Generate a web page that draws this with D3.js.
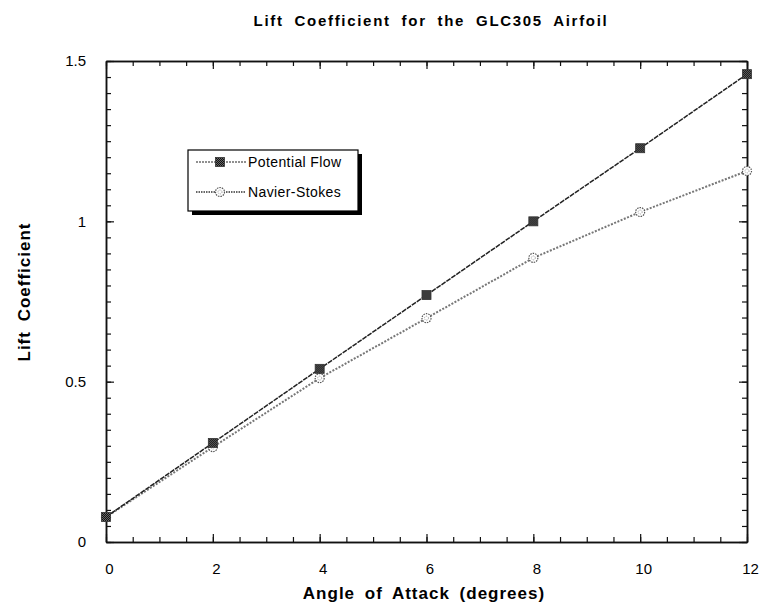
<!DOCTYPE html>
<html>
<head>
<meta charset="utf-8">
<script src="https://cdn.jsdelivr.net/npm/d3@7"></script>
<style>
  html, body { margin: 0; padding: 0; background: #fff; }
  svg { display: block; }
  text { font-family: "Liberation Sans", Arial, Helvetica, sans-serif; fill: #000; }
</style>
</head>
<body>
<svg id="chart" width="764" height="608"></svg>
<script>
// Angle of attack (degrees)
const angles = [0, 2, 4, 6, 8, 10, 12];
// Lift coefficient, potential flow solution
const potentialFlow = [0.078, 0.309, 0.540, 0.770, 1.000, 1.228, 1.459];
// Lift coefficient, Navier-Stokes solution
const navierStokes = [0.078, 0.296, 0.511, 0.698, 0.886, 1.029, 1.157];

const xTicks = [0, 2, 4, 6, 8, 10, 12];
const yTicks = [0, 0.5, 1, 1.5];
const seriesNames = ["Potential Flow", "Navier-Stokes"];

const svg = d3.select("#chart");
const margin = { left: 106, right: 17, top: 61, bottom: 66 };
const W = 764, H = 608;

const x = d3.scaleLinear().domain([0, 12]).range([margin.left, W - margin.right]);
const y = d3.scaleLinear().domain([0, 1.5]).range([H - margin.bottom, margin.top]);

// Marker fill pattern
const defs = svg.append("defs");
const checker = defs.append("pattern").attr("id", "checker")
  .attr("width", 2).attr("height", 2).attr("patternUnits", "userSpaceOnUse");
checker.append("rect").attr("width", 2).attr("height", 2).attr("fill", "#666");
checker.append("rect").attr("width", 1).attr("height", 1).attr("fill", "#111");
checker.append("rect").attr("x", 1).attr("y", 1).attr("width", 1).attr("height", 1).attr("fill", "#111");

// Title
svg.append("text")
  .attr("x", 431).attr("y", 26)
  .attr("text-anchor", "middle")
  .style("font-size", "15px").style("font-weight", "bold")
  .style("letter-spacing", "1.7px").style("word-spacing", "5px")
  .text("Lift Coefficient for the GLC305 Airfoil");

// Axis labels
svg.append("text")
  .attr("x", 424).attr("y", 599)
  .attr("text-anchor", "middle")
  .style("font-size", "17px").style("font-weight", "bold")
  .style("letter-spacing", "1px").style("word-spacing", "4px")
  .text("Angle of Attack (degrees)");

svg.append("text")
  .attr("transform", "translate(30,292) rotate(-90)")
  .attr("text-anchor", "middle")
  .style("font-size", "17px").style("font-weight", "bold")
  .style("letter-spacing", "1px").style("word-spacing", "4px")
  .text("Lift Coefficient");

// Frame with inward ticks on all four sides
const frame = svg.append("g");

const minorX = d3.range(0, 12.001, 0.5);
const minorY = d3.range(0, 1.5001, 0.05);

const bottom = d3.axisBottom(x).tickValues(xTicks).tickSizeInner(-8).tickSizeOuter(0).tickFormat(d3.format("d"));
const bottomMinor = d3.axisBottom(x).tickValues(minorX).tickSizeInner(-5).tickSizeOuter(0).tickFormat("");
const topAx = d3.axisTop(x).tickValues(xTicks).tickSizeInner(-8).tickSizeOuter(0).tickFormat("");
const topMinor = d3.axisTop(x).tickValues(minorX).tickSizeInner(-5).tickSizeOuter(0).tickFormat("");
const left = d3.axisLeft(y).tickValues(yTicks).tickSizeInner(-8).tickSizeOuter(0).tickFormat(d => String(d));
const leftMinor = d3.axisLeft(y).tickValues(minorY).tickSizeInner(-5).tickSizeOuter(0).tickFormat("");
const rightAx = d3.axisRight(y).tickValues(yTicks).tickSizeInner(-8).tickSizeOuter(0).tickFormat("");
const rightMinor = d3.axisRight(y).tickValues(minorY).tickSizeInner(-5).tickSizeOuter(0).tickFormat("");

function styleAxis(g) {
  g.attr("font-size", 15).attr("font-family", "\"Liberation Sans\", Arial, sans-serif");
  g.select(".domain").attr("stroke", "#111").attr("stroke-width", 1.5);
  g.selectAll(".tick line").attr("stroke", "#111").attr("stroke-width", 1.2);
  g.selectAll(".tick text").attr("fill", "#000");
}

frame.append("g").attr("transform", `translate(0,${y(0)})`).call(bottomMinor).call(styleAxis);
frame.append("g").attr("transform", `translate(0,${y(0)})`).call(bottom).call(styleAxis)
  .selectAll(".tick text").attr("y", 21).attr("dy", "0.71em").attr("dx", "3");
frame.append("g").attr("transform", `translate(0,${y(1.5)})`).call(topMinor).call(styleAxis);
frame.append("g").attr("transform", `translate(0,${y(1.5)})`).call(topAx).call(styleAxis);
frame.append("g").attr("transform", `translate(${x(0)},0)`).call(leftMinor).call(styleAxis);
frame.append("g").attr("transform", `translate(${x(0)},0)`).call(left).call(styleAxis)
  .selectAll(".tick text").attr("x", -20);
frame.append("g").attr("transform", `translate(${x(12)},0)`).call(rightMinor).call(styleAxis);
frame.append("g").attr("transform", `translate(${x(12)},0)`).call(rightAx).call(styleAxis);

// Series lines
const line = d3.line().x((d, i) => x(angles[i])).y(d => y(d));

svg.append("path").datum(navierStokes)
  .attr("d", line).attr("fill", "none")
  .attr("stroke", "#777").attr("stroke-width", 2).attr("stroke-dasharray", "2,1.5");

svg.append("path").datum(potentialFlow)
  .attr("d", line).attr("fill", "none")
  .attr("stroke", "#222").attr("stroke-width", 1.5).attr("stroke-dasharray", "5,1");

// Markers
function nsMarker(g) {
  g.append("circle").attr("r", 4.5).attr("fill", "#fff")
    .attr("stroke", "#555").attr("stroke-width", 1.2).attr("stroke-dasharray", "1.5,1");
  g.append("circle").attr("r", 2).attr("fill", "none")
    .attr("stroke", "#888").attr("stroke-width", 0.8).attr("stroke-dasharray", "1,1");
}
function pfMarker(g) {
  g.append("rect").attr("x", -4.5).attr("y", -4.5).attr("width", 9).attr("height", 9)
    .attr("fill", "url(#checker)").attr("stroke", "#333").attr("stroke-width", 0.8);
}

svg.append("g").selectAll("g").data(navierStokes).join("g")
  .attr("transform", (d, i) => `translate(${x(angles[i])},${y(d)})`)
  .each(function () { nsMarker(d3.select(this)); });

svg.append("g").selectAll("g").data(potentialFlow).join("g")
  .attr("transform", (d, i) => `translate(${x(angles[i])},${y(d)})`)
  .each(function () { pfMarker(d3.select(this)); });

// Legend with drop shadow
const lg = svg.append("g").attr("transform", "translate(188,150)");
lg.append("rect").attr("x", 4).attr("y", 4).attr("width", 170).attr("height", 61).attr("fill", "#000");
lg.append("rect").attr("x", 0).attr("y", 0).attr("width", 170).attr("height", 61)
  .attr("fill", "#fff").attr("stroke", "#000").attr("stroke-width", 1.2);

const rows = lg.selectAll("g.row").data(seriesNames).join("g")
  .attr("class", "row")
  .attr("transform", (d, i) => `translate(0,${12 + i * 30})`);

rows.append("line").attr("x1", 8).attr("x2", 58).attr("y1", 0).attr("y2", 0)
  .attr("stroke", (d, i) => i === 0 ? "#222" : "#666")
  .attr("stroke-width", (d, i) => i === 0 ? 1.2 : 2)
  .attr("stroke-dasharray", (d, i) => i === 0 ? "2,1" : "1.5,1");
rows.each(function (d, i) {
  const m = d3.select(this).append("g").attr("transform", "translate(32,0)");
  if (i === 0) pfMarker(m); else nsMarker(m);
});
rows.append("text").attr("x", 60).attr("y", 5)
  .style("font-size", "14px").style("letter-spacing", "0.4px").attr("fill", "#333")
  .text(d => d);
</script>
</body>
</html>
